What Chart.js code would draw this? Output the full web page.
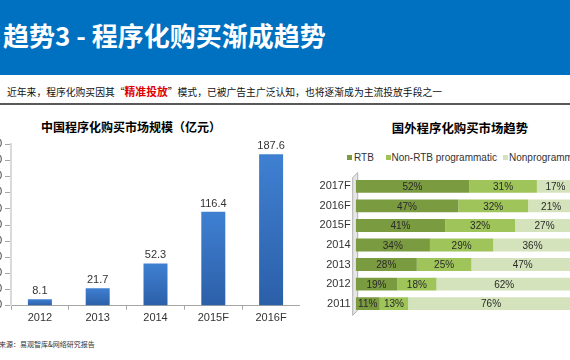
<!DOCTYPE html>
<html><head><meta charset="utf-8">
<script src="https://cdn.jsdelivr.net/npm/chart.js@4.4.0/dist/chart.umd.min.js"></script>
<style>
html,body{margin:0;padding:0;width:570px;height:360px;overflow:hidden;background:#fff;position:relative;font-family:"Liberation Sans",Arial,sans-serif;}
#hdr{position:absolute;left:0;top:0;width:570px;height:75px;background:#0070c0;}
#hdr span{position:absolute;left:3px;top:22px;font:700 26px/26px "Noto Sans CJK SC";color:#fff;white-space:nowrap;}
#sub{position:absolute;left:7px;top:85px;font:400 9.8px/12px "Noto Sans CJK SC";color:#111;white-space:nowrap;}
#sub b{color:#e00000;font-size:10.8px;font-weight:700;}
#sep{position:absolute;left:0;top:103px;width:570px;height:2px;background:#595959;}
.ttl{position:absolute;font:700 12px/12px "Noto Sans CJK SC";color:#000;text-align:center;white-space:nowrap;}
#src{position:absolute;left:-1px;top:341px;font:400 7px/7px "Noto Sans CJK SC";color:#333;white-space:nowrap;}
#lg{position:absolute;left:0;top:0;}
.lgi{position:absolute;top:153px;font:400 10px/10px "Liberation Sans",Arial,sans-serif;color:#333;white-space:nowrap;}
.lgb{position:absolute;top:155px;width:5px;height:5px;}
#c1{position:absolute;left:-30px;top:130px;}
#c2{position:absolute;left:290px;top:165px;}
</style></head>
<body>
<div id="hdr"><span>趋势3 - 程序化购买渐成趋势</span></div>
<div id="sub">近年来，程序化购买因其“<b>精准投放</b>”模式，已被广告主广泛认知，也将逐渐成为主流投放手段之一</div>
<div id="sep"></div>
<div class="ttl" style="left:31px;width:200px;top:121px;">中国程序化购买市场规模（亿元）</div>
<div class="ttl" style="left:360px;width:200px;top:122px;font-size:12.4px;">国外程序化购买市场趋势</div>
<div id="lg"></div>
<canvas id="c1" width="330" height="205"></canvas>
<canvas id="c2" width="300" height="160"></canvas>
<div id="src">来源：易观智库&amp;网络研究报告</div>
<script>
// ---- Data: left chart ----
const cnYears = ['2012', '2013', '2014', '2015F', '2016F'];
const cnMarket = [8.1, 21.7, 52.3, 116.4, 187.6];
const cnTicks = [0, 20, 40, 60, 80, 100, 120, 140, 160, 180, 200];

// ---- Data: right chart ----
const frYears = ['2017F', '2016F', '2015F', '2014', '2013', '2012', '2011'];
const seriesNames = ['RTB', 'Non-RTB programmatic', 'Nonprogrammatic'];
const rtb = [52, 47, 41, 34, 28, 19, 11];
const nonRtb = [31, 32, 32, 29, 25, 18, 13];
const nonProg = [17, 21, 27, 36, 47, 62, 76];
const seriesColors = ['#7b9b41', '#9ec45a', '#d4e3bb'];

Chart.defaults.font.family = '"Liberation Sans", Arial, sans-serif';
Chart.defaults.devicePixelRatio = 1;

// HTML legend for the right chart
const legendX = [[347, 354], [386, 391.5], [503, 509]];
const lg = document.getElementById('lg');
seriesNames.forEach((n, i) => {
  const b = document.createElement('div'); b.className = 'lgb';
  b.style.left = legendX[i][0] + 'px'; b.style.background = seriesColors[i];
  const t = document.createElement('div'); t.className = 'lgi';
  t.style.left = legendX[i][1] + 'px'; t.textContent = n;
  lg.appendChild(b); lg.appendChild(t);
});

const valueLabels = {
  id: 'valueLabels',
  afterDatasetsDraw(chart, args, opts) {
    const ctx = chart.ctx;
    ctx.save();
    ctx.font = opts.font;
    ctx.fillStyle = opts.color;
    chart.data.datasets.forEach((ds, di) => {
      const meta = chart.getDatasetMeta(di);
      meta.data.forEach((el, i) => {
        const v = ds.data[i];
        if (opts.mode === 'top') {
          ctx.textAlign = 'center'; ctx.textBaseline = 'alphabetic';
          ctx.fillText(v.toFixed(1), el.x, el.y - 5);
        } else {
          const c = el.getCenterPoint();
          ctx.textAlign = 'center'; ctx.textBaseline = 'middle';
          ctx.fillText(v + '%', c.x, c.y + 1);
        }
      });
    });
    ctx.restore();
  }
};

const wall = {
  id: 'wall',
  beforeDatasetsDraw(chart) {
    const {ctx, chartArea: a} = chart;
    ctx.save();
    ctx.beginPath();
    ctx.moveTo(a.left - 3, a.top + 1);
    ctx.lineTo(a.left + 2, a.top - 4);
    ctx.lineTo(a.left + 2, a.bottom - 3);
    ctx.lineTo(a.left - 3, a.bottom + 2);
    ctx.closePath();
    ctx.fillStyle = '#e6e6e6';
    ctx.fill();
    ctx.strokeStyle = '#b0b0b0';
    ctx.lineWidth = 1;
    ctx.stroke();
    ctx.restore();
  }
};

new Chart(document.getElementById('c1'), {
  type: 'bar',
  data: {
    labels: cnYears,
    datasets: [{
      data: cnMarket,
      backgroundColor: (c) => {
        const chart = c.chart, ya = chart.scales && chart.scales.y;
        if (!ya || c.type !== 'data') return '#3a76c4';
        const top = ya.getPixelForValue(c.raw), bot = ya.getPixelForValue(0);
        if (!isFinite(top) || !isFinite(bot) || top === bot) return '#3a76c4';
        const g = chart.ctx.createLinearGradient(0, top, 0, bot);
        g.addColorStop(0, '#3f80d2');
        g.addColorStop(1, '#2c5fa8');
        return g;
      },
      borderWidth: 0,
      categoryPercentage: 1,
      barPercentage: 0.415
    }]
  },
  options: {
    responsive: false,
    animation: false,
    layout: {padding: {left: 0, right: 0, top: 14.3, bottom: 7.3}},
    plugins: {
      legend: {display: false}, tooltip: {enabled: false},
      valueLabels: {mode: 'top', font: '11px "Liberation Sans", Arial, sans-serif', color: '#333'}
    },
    scales: {
      x: {
        afterFit: (s) => { s.height = 22; },
        grid: {display: true, drawOnChartArea: false, drawTicks: true, tickLength: 4, offset: true, color: '#a6a6a6'},
        border: {display: true, color: '#a6a6a6', width: 1},
        ticks: {font: {size: 11}, color: '#333', padding: 2}
      },
      y: {
        min: 0, max: 200,
        afterFit: (s) => { s.width = 41; },
        afterBuildTicks: (s) => { s.ticks = cnTicks.map(v => ({value: v})); },
        grid: {display: true, drawOnChartArea: false, drawTicks: true, tickLength: 6, color: '#a6a6a6'},
        border: {display: true, color: '#d9d9d9', width: 2},
        ticks: {font: {size: 10}, color: '#333', padding: 3}
      }
    }
  },
  plugins: [valueLabels]
});

new Chart(document.getElementById('c2'), {
  type: 'bar',
  data: {
    labels: frYears,
    datasets: [rtb, nonRtb, nonProg].map((d, i) => ({
      label: seriesNames[i],
      data: d,
      backgroundColor: seriesColors[i],
      borderWidth: 0,
      categoryPercentage: 1,
      barPercentage: 0.66
    }))
  },
  options: {
    indexAxis: 'y',
    responsive: false,
    animation: false,
    layout: {padding: {left: 5.7, right: 16, top: 8.9, bottom: 9.9}},
    plugins: {
      legend: {display: false}, tooltip: {enabled: false},
      valueLabels: {mode: 'center', font: '10px "Liberation Sans", Arial, sans-serif', color: '#2a2a2a'}
    },
    scales: {
      x: {display: false, stacked: true, min: 0, max: 100},
      y: {
        stacked: true,
        afterFit: (s) => { s.width = 60; },
        grid: {display: false, drawTicks: false},
        border: {display: false},
        ticks: {font: {size: 11}, color: '#333', padding: 5}
      }
    }
  },
  plugins: [wall, valueLabels]
});
</script>
</body></html>
